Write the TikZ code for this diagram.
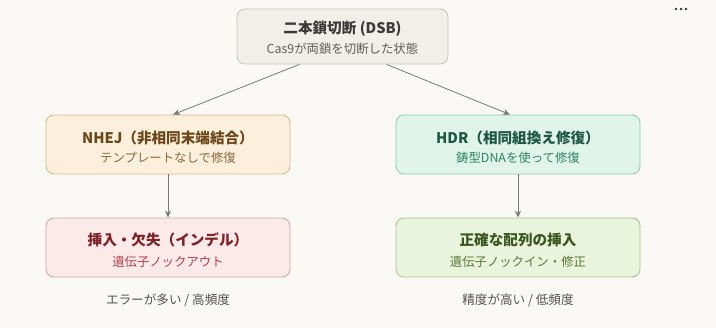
\documentclass[tikz,border=0pt]{standalone}
\usepackage{fontspec}
\setmainfont{Noto Sans CJK JP}
\newfontfamily\cjk{Noto Sans CJK JP}
\usetikzlibrary{arrows.meta,calc}
\definecolor{bg}{HTML}{FAF9F5}
\definecolor{topfill}{HTML}{F0EFEA}\definecolor{topdraw}{HTML}{C5C3BB}
\definecolor{topt}{HTML}{3A3A38}\definecolor{tops}{HTML}{5F5E5A}
\definecolor{nfill}{HTML}{FCEFDC}\definecolor{ndraw}{HTML}{D8B888}
\definecolor{nt}{HTML}{6A4618}\definecolor{ns}{HTML}{8A6A3E}
\definecolor{hfill}{HTML}{E1F4EC}\definecolor{hdraw}{HTML}{8CCAB0}
\definecolor{ht}{HTML}{1C5743}\definecolor{hs}{HTML}{2E8566}
\definecolor{rfill}{HTML}{FCE9E9}\definecolor{rdraw}{HTML}{D9A1A6}
\definecolor{rt}{HTML}{7E2226}\definecolor{rs}{HTML}{AE3F4C}
\definecolor{gfill}{HTML}{EAF3DC}\definecolor{gdraw}{HTML}{A7C48A}
\definecolor{gt}{HTML}{3A5720}\definecolor{gs}{HTML}{587A38}
\definecolor{arr}{HTML}{7A7976}\definecolor{note}{HTML}{55544F}
\tikzset{
  box/.style={draw, line width=0.8pt, rounded corners=8pt, inner sep=0pt},
  ttl/.style={font=\cjk\bfseries\fontsize{14.6}{16}\selectfont},
  sub/.style={font=\cjk\fontsize{12.4}{14}\selectfont},
  notetxt/.style={font=\cjk\fontsize{12.6}{14}\selectfont, text=note},
  conn/.style={draw=arr, line width=0.8pt, -{Stealth[length=7pt,width=6pt]}},
}
\begin{document}
\begin{tikzpicture}[x=1pt,y=-1pt]
\fill[bg] (0,0) rectangle (716,328);
\useasboundingbox (0,0) rectangle (716,328);
% dots
\foreach \xx in {676,681,686} \fill[black!80] (\xx,9) circle (1.3);
% boxes
\node[box, fill=topfill, draw=topdraw, minimum width=211pt, minimum height=55pt] (top) at (342.5,36.5) {};
\node[ttl, text=topt] (topT) at (342.5,29) {二本鎖切断 (DSB)};
\node[sub, text=tops] (topS) at (342.5,49) {Cas9が両鎖を切断した状態};

\node[box, fill=nfill, draw=ndraw, minimum width=244pt, minimum height=59pt] (nhej) at (168,144.5) {};
\node[ttl, text=nt] (nhejT) at (168,138) {NHEJ（非相同末端結合）};
\node[sub, text=ns] (nhejS) at (168,158) {テンプレートなしで修復};

\node[box, fill=hfill, draw=hdraw, minimum width=244pt, minimum height=59pt] (hdr) at (518,144.5) {};
\node[ttl, text=ht] (hdrT) at (518,138) {HDR（相同組換え修復）};
\node[sub, text=hs] (hdrS) at (518,158) {鋳型DNAを使って修復};

\node[box, fill=rfill, draw=rdraw, minimum width=244pt, minimum height=59pt] (indel) at (168,247.5) {};
\node[ttl, text=rt] (indelT) at (168,240) {挿入・欠失（インデル）};
\node[sub, text=rs] (indelS) at (168,262) {遺伝子ノックアウト};

\node[box, fill=gfill, draw=gdraw, minimum width=244pt, minimum height=59pt] (ins) at (518,247.5) {};
\node[ttl, text=gt] (insT) at (518,240) {正確な配列の挿入};
\node[sub, text=gs] (insS) at (518,262) {遺伝子ノックイン・修正};

\node[notetxt] (noteL) at (168,300) {エラーが多い / 高頻度};
\node[notetxt] (noteR) at (518,300) {精度が高い / 低頻度};

% connectors
\draw[conn] ($(top.south)+(-43,0)$) -- ($(nhej.north)+(5,0)$);
\draw[conn] ($(top.south)+(44,0)$) -- ($(hdr.north)+(-8,0)$);
\draw[conn] (nhej.south) -- (indel.north);
\draw[conn] (hdr.south) -- (ins.north);
\end{tikzpicture}
\end{document}
